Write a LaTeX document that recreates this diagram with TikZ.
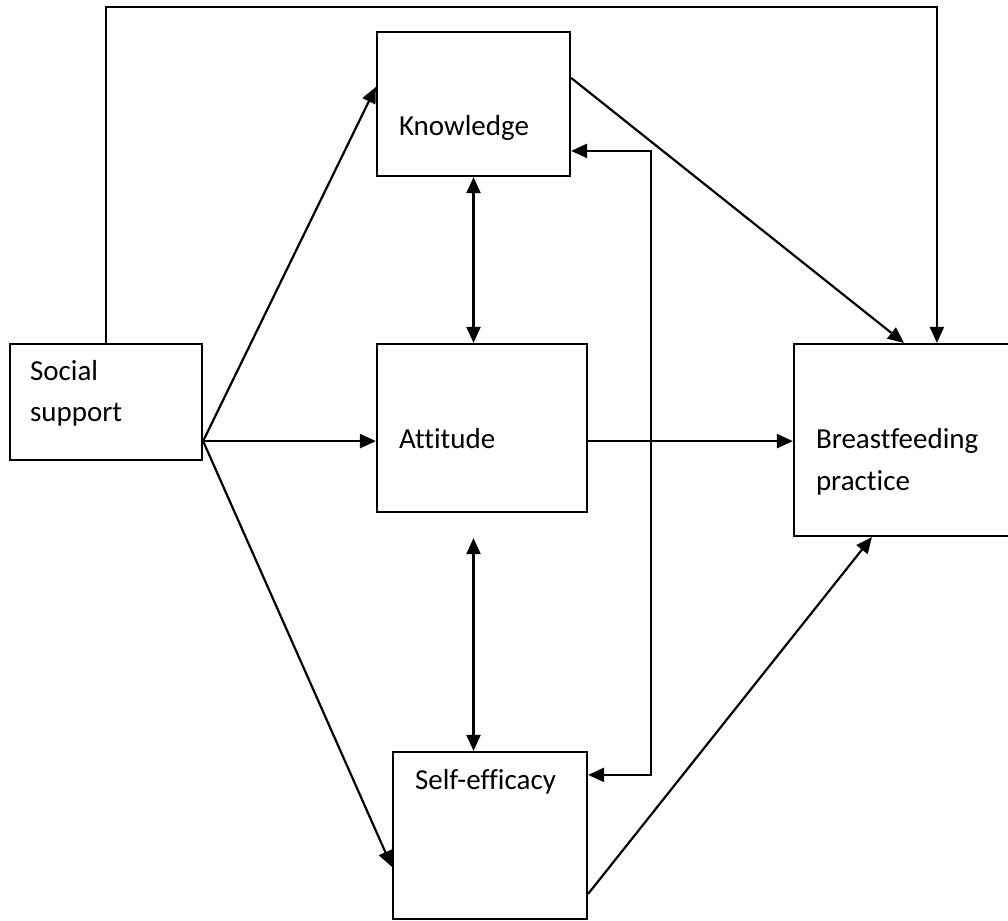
\documentclass[tikz,border=0pt]{standalone}
\usepackage{fontspec}
\setmainfont[Ligatures=NoCommon]{Carlito}
\usetikzlibrary{arrows.meta,calc}
\begin{document}
\begin{tikzpicture}[x=1pt,y=-1pt,line width=2.2pt,
  >={Triangle[length=16pt,width=14pt]}]
\tikzstyle{box}=[draw=black,rectangle,inner sep=0pt]
\tikzstyle{lbl}=[inner sep=0pt,anchor=base west,font=\fontsize{29}{35}\selectfont]
\useasboundingbox (0,0) rectangle (1008,920);
\node [box,minimum width=192pt,minimum height=116pt] (ss) at (106,402) {};
\node [box,minimum width=193pt,minimum height=144pt] (know) at (473.5,104) {};
\node [box,minimum width=210pt,minimum height=168pt] (att) at (482,428) {};
\node [box,minimum width=194pt,minimum height=167pt] (self) at (490,835.5) {};
\node [box,minimum width=218pt,minimum height=192pt] (bf) at (903,440) {};
\node [lbl] (sstxt) at ($(ss.north west)+(20,38)$) {Social};
\node [lbl] (sstxtb) at ($(ss.north west)+(20,79)$) {support};
\node [lbl] (knowtxt) at ($(know.north west)+(22,105)$) {Knowledge};
\node [lbl] (atttxt) at ($(att.north west)+(22,106)$) {Attitude};
\node [lbl] (selftxt) at ($(self.north west)+(22,39)$) {Self-efficacy};
\node [lbl] (bftxt) at ($(bf.north west)+(22,106)$) {Breastfeeding};
\node [lbl] (bftxtb) at ($(bf.north west)+(22,148)$) {practice};
\coordinate (ssout) at ($(ss.south east)+(0,-20)$);
\coordinate (attlow) at ($(know.south |- att.south)+(0,25)$);
\draw [black,->] (ssout) -- ($(know.north west)+(0,56)$);
\draw [black,->] (ssout) -- (att.west |- ssout);
\draw [black,->] (ssout) -- ($(self.north west)+(0,116)$);
\draw [black,->] ($(know.north east)+(0,47)$) -- ($(bf.north west)+(111,0)$);
\draw [black,->] (att.east |- ssout) -- (bf.west |- ssout);
\draw [black,->] ($(self.north east)+(0,143)$) -- ($(bf.south west)+(79,0)$);
\draw [black,<->] (know.south) -- (know.south |- att.north);
\draw [black,<->] (attlow) -- (attlow |- self.north);
\draw [black,<->] ($(know.north east)+(0,120)$) -- ++(80,0) |- ($(self.north east)+(0,24)$);
\draw [black,->] (ss.north) -- ++(0,-336) -| ($(bf.north west)+(144,0)$);
\end{tikzpicture}
\end{document}
